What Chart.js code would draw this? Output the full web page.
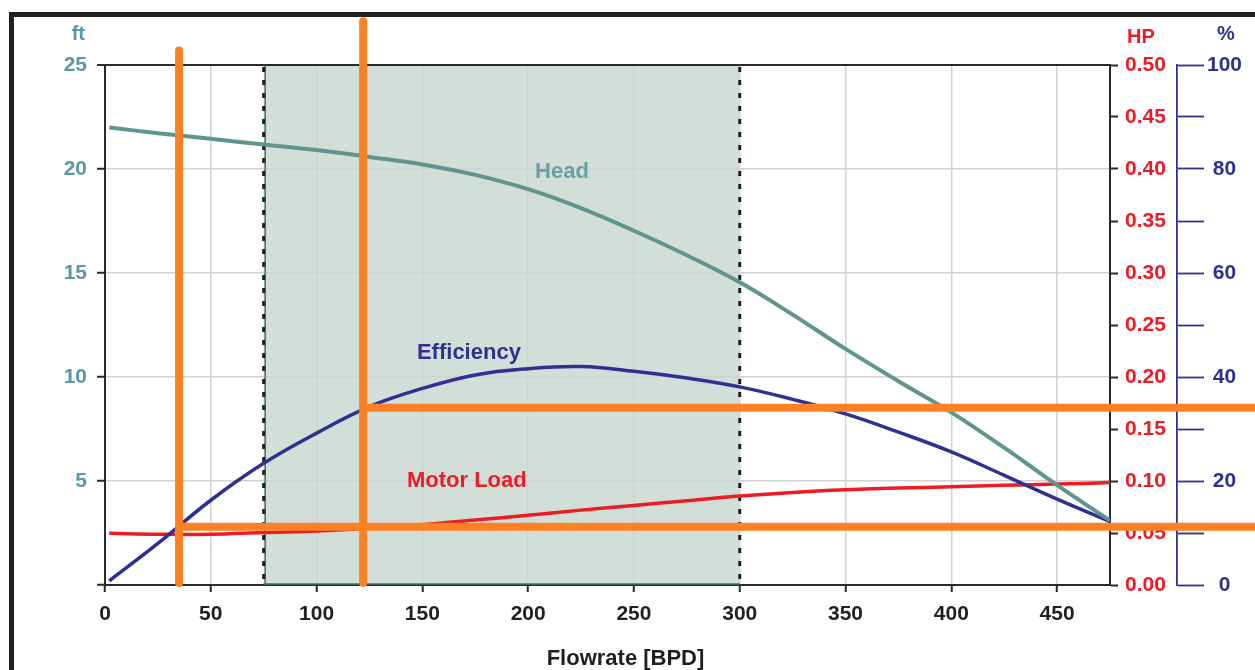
<!DOCTYPE html>
<html>
<head>
<meta charset="utf-8">
<script src="https://cdn.jsdelivr.net/npm/chart.js@4.4.1/dist/chart.umd.min.js"></script>
<style>
  html, body { margin: 0; padding: 0; background: #fff; overflow: hidden; }
  #wrap { width: 1255px; height: 670px; }
</style>
</head>
<body>
<div id="wrap"><canvas id="c" width="1255" height="670"></canvas></div>
<script>
// ---- data ----
const flowrate = [2, 25, 50, 75, 100, 125, 150, 175, 200, 225, 250, 275, 300, 325, 350, 375, 400, 425, 450, 475];
const headFt = [22.0, 21.72, 21.45, 21.18, 20.91, 20.58, 20.22, 19.72, 19.03, 18.12, 17.03, 15.85, 14.55, 13.0, 11.35, 9.8, 8.3, 6.6, 4.8, 3.1];
const efficiencyPct = [0.8, 8.0, 16.3, 23.4, 29.2, 34.3, 37.8, 40.4, 41.6, 42.0, 41.1, 39.8, 38.1, 35.7, 32.9, 29.4, 25.6, 21.1, 16.5, 12.2];
const motorLoadHp = [0.0497, 0.0488, 0.0488, 0.0505, 0.052, 0.0545, 0.058, 0.0625, 0.067, 0.072, 0.0765, 0.081, 0.0855, 0.089, 0.0915, 0.0932, 0.0945, 0.096, 0.097, 0.0985];

const zoneFlow = [75, 300];            // shaded operating range
const markerFlow = [35, 122];          // orange vertical markers
const markerEffPct = [11.2, 34.1];     // orange horizontal markers (efficiency %)
const markerTopFt = [25.7, 27.1];      // top end of vertical markers (ft)

const curveLabels = [
  { text: 'Head', flow: 216, value: 19.85, axis: 'yFt', color: '#6aa0a6' },
  { text: 'Efficiency', flow: 172, value: 44.6, axis: 'yPct', color: '#2e3192' },
  { text: 'Motor Load', flow: 171, value: 0.100, axis: 'yHp', color: '#ed1c24' }
];

const FONT = '"Liberation Sans", Arial, Helvetica, sans-serif';
const C_HEAD = '#5f958f', C_EFF = '#2e3192', C_MOTOR = '#ed1c24', C_ORANGE = '#fe8024';
const C_FT = '#5a98a8', C_DARK = '#2a2a2a', C_GRID = '#d2d2d2';
const FS = 21;

Chart.defaults.font.family = FONT;

const toXY = (ys) => flowrate.map((x, i) => ({ x, y: ys[i] }));

const decor = {
  id: 'decor',
  beforeDraw(chart) {
    const { ctx, chartArea: a, scales } = chart;
    const xs = scales.x;
    ctx.save();
    ctx.fillStyle = '#fff';
    ctx.fillRect(0, 0, chart.width, chart.height);
    // outer frame
    ctx.fillStyle = '#231f20';
    ctx.fillRect(9, 12, 5, chart.height - 12);
    ctx.fillRect(9, 12, chart.width - 9, 5);
    // shaded zone
    const x0 = xs.getPixelForValue(zoneFlow[0]), x1 = xs.getPixelForValue(zoneFlow[1]);
    ctx.fillStyle = '#d2dfd9';
    ctx.fillRect(x0, a.top, x1 - x0, a.bottom - a.top);
    ctx.restore();
  },
  beforeDatasetsDraw(chart) {
    const { ctx, chartArea: a, scales } = chart;
    const xs = scales.x;
    ctx.save();
    const x0 = xs.getPixelForValue(zoneFlow[0]), x1 = xs.getPixelForValue(zoneFlow[1]);
    ctx.strokeStyle = '#2f7d5e';
    ctx.lineWidth = 1.5;
    ctx.beginPath();
    ctx.moveTo(x0 + 1.5, a.top); ctx.lineTo(x0 + 1.5, a.bottom);
    ctx.moveTo(x0, a.bottom - 1); ctx.lineTo(x1, a.bottom - 1);
    ctx.stroke();
    ctx.strokeStyle = '#1e1e1e';
    ctx.lineWidth = 3;
    ctx.setLineDash([5, 8]);
    ctx.beginPath();
    [x0, x1].forEach(px => { ctx.moveTo(px, a.top + 2); ctx.lineTo(px, a.bottom); });
    ctx.stroke();
    ctx.restore();
  },
  afterDraw(chart) {
    const { ctx, chartArea: a, scales } = chart;
    const xs = scales.x, yFt = scales.yFt, yPct = scales.yPct;
    ctx.save();
    // curve labels
    ctx.font = 'bold 22px ' + FONT;
    ctx.textAlign = 'center';
    ctx.textBaseline = 'middle';
    curveLabels.forEach(l => {
      ctx.fillStyle = l.color;
      ctx.fillText(l.text, xs.getPixelForValue(l.flow), scales[l.axis].getPixelForValue(l.value));
    });
    // axis unit titles
    ctx.font = 'bold 20px ' + FONT;
    ctx.fillStyle = C_FT; ctx.textAlign = 'right';
    ctx.fillText('ft', yFt.right - 20, a.top - 31);
    ctx.fillStyle = C_MOTOR; ctx.textAlign = 'left';
    ctx.fillText('HP', scales.yHp.left + 17, a.top - 28);
    ctx.fillStyle = C_EFF; ctx.textAlign = 'center';
    ctx.fillText('%', yPct.left + 49, a.top - 31);
    // x title
    ctx.font = 'bold 22px ' + FONT;
    ctx.fillStyle = '#231f20';
    ctx.fillText('Flowrate [BPD]', (a.left + a.right) / 2 + 18, chart.height - 11);
    // orange markers
    ctx.strokeStyle = C_ORANGE;
    ctx.lineWidth = 8;
    ctx.lineCap = 'round';
    markerFlow.forEach((f, i) => {
      const px = xs.getPixelForValue(f);
      const py = yPct.getPixelForValue(markerEffPct[i]);
      ctx.beginPath();
      ctx.moveTo(px, py); ctx.lineTo(chart.width + 10, py);
      ctx.stroke();
    });
    markerFlow.forEach((f, i) => {
      const px = xs.getPixelForValue(f);
      ctx.beginPath();
      ctx.moveTo(px, yFt.getPixelForValue(markerTopFt[i]));
      ctx.lineTo(px, yFt.getPixelForValue(0) - 2);
      ctx.stroke();
    });
    ctx.restore();
  }
};

new Chart(document.getElementById('c'), {
  type: 'line',
  data: {
    datasets: [
      { label: 'Head', data: toXY(headFt), yAxisID: 'yFt', borderColor: C_HEAD, borderWidth: 4, pointRadius: 0, tension: 0.4 },
      { label: 'Efficiency', data: toXY(efficiencyPct), yAxisID: 'yPct', borderColor: C_EFF, borderWidth: 3.5, pointRadius: 0, tension: 0.4 },
      { label: 'Motor Load', data: toXY(motorLoadHp), yAxisID: 'yHp', borderColor: C_MOTOR, borderWidth: 3.5, pointRadius: 0, tension: 0.4 }
    ]
  },
  options: {
    responsive: false,
    animation: false,
    events: [],
    layout: { padding: { top: 65, left: 0, right: 0, bottom: 0 } },
    plugins: { legend: { display: false }, tooltip: { enabled: false } },
    scales: {
      x: {
        type: 'linear', position: 'bottom', min: 0, max: 475,
        afterFit(s) { s.height = 85; },
        ticks: { stepSize: 50, includeBounds: false, color: '#231f20', font: { size: FS, weight: 'bold' }, padding: 10, maxRotation: 0 },
        grid: { color: (c) => (c.tick && c.tick.value === 0 ? C_DARK : C_GRID), lineWidth: 1.5, tickLength: 7, tickColor: C_DARK, tickWidth: 2 },
        border: { color: C_DARK, width: 2 }
      },
      yFt: {
        type: 'linear', position: 'left', min: 0, max: 25,
        afterFit(s) { s.width = 105; },
        ticks: { stepSize: 5, color: C_FT, font: { size: FS, weight: 'bold' }, padding: 10, callback: (v) => (v === 0 ? '' : v) },
        grid: { color: (c) => (c.tick && c.tick.value === 25 ? C_DARK : C_GRID), lineWidth: (c) => (c.tick && c.tick.value === 25 ? 2 : 1.5), tickLength: 8, tickColor: C_DARK, tickWidth: 2 },
        border: { color: C_DARK, width: 2 }
      },
      yHp: {
        type: 'linear', position: 'right', min: 0, max: 0.5, weight: 0,
        afterFit(s) { s.width = 67; },
        ticks: { stepSize: 0.05, color: C_MOTOR, font: { size: FS, weight: 'bold' }, padding: 7, callback: (v) => Number(v).toFixed(2) },
        grid: { drawOnChartArea: false, tickLength: 8, tickColor: C_DARK, tickWidth: 2 },
        border: { color: C_DARK, width: 2 }
      },
      yPct: {
        type: 'linear', position: 'right', min: 0, max: 100, weight: 1,
        afterFit(s) { s.width = 78; },
        ticks: { stepSize: 10, color: C_EFF, font: { size: FS, weight: 'bold' }, padding: 3, crossAlign: 'center', callback: (v) => (v % 20 === 0 ? v : '') },
        grid: { drawOnChartArea: false, tickLength: 27, tickColor: C_EFF, tickWidth: 1.8 },
        border: { color: C_EFF, width: 1.8 }
      }
    }
  },
  plugins: [decor]
});
</script>
</body>
</html>
